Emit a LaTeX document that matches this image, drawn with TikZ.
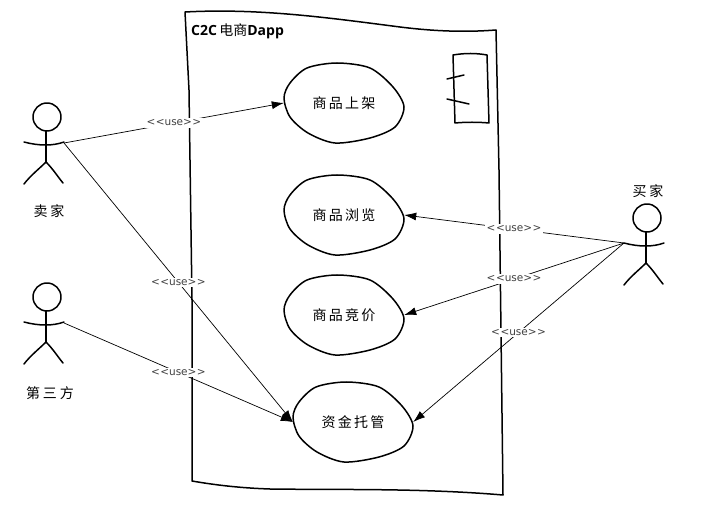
\documentclass[tikz,border=0pt]{standalone}
\usepackage{fontspec}
\setmainfont{Open Sans}
\newfontfamily\cjk{Noto Sans CJK SC}
\newfontfamily\cjkcase[LetterSpace=16]{Noto Sans CJK SC}
\newfontfamily\cjkactor[LetterSpace=20]{Noto Sans CJK SC}
\newfontfamily\labelfont{DejaVu Sans}
\usepackage{tikz}
\usetikzlibrary{arrows.meta,shapes.geometric}
\tikzset{
	sketch/.style={line width=1.5pt, line join=round, line cap=round},
	usecasetext/.style={ellipse, minimum width=120pt, minimum height=80pt, inner sep=0pt, font=\cjkcase\fontsize{14}{14}\selectfont},
	actortext/.style={inner sep=0pt, font=\cjkactor\fontsize{14}{14}\selectfont},
	uselabel/.style={fill=white, inner sep=1.5pt, text=black!75, font=\labelfont\fontsize{10.5}{10.5}\selectfont},
	usearrow/.style={line width=0.7pt, -{Latex[length=12pt,width=8pt]}}
}
\def\uselabeltext{<\kern0.5pt<use>\kern0.5pt>}
\def\usecase(#1)(#2,#3)#4{
	\draw[sketch] plot[smooth cycle] coordinates {(#2-60,#3-5) (#2-54,#3-20) (#2-37,#3-35) (#2-7,#3-40) (#2+26,#3-35) (#2+49,#3-16) (#2+60,#3+4) (#2+51,#3+24) (#2+26,#3+35) (#2-9,#3+40) (#2-36,#3+30) (#2-54,#3+14)};
	\node[usecasetext] (#1) at (#2,#3) {#4};
}
\def\actor(#1)(#2,#3){
	\draw[sketch] (#2,#3) circle (14);
	\draw[sketch] (#2-1,#3+14) -- (#2-1,#3+45);
	\draw[sketch] (#2-23,#3+25) .. controls (#2-8,#3+29) and (#2+6,#3+29) .. (#2+17,#3+25);
	\draw[sketch] (#2-23,#3+67) .. controls (#2-16,#3+58) and (#2-8,#3+52) .. (#2-1,#3+45) .. controls (#2+6,#3+52) and (#2+11,#3+60) .. (#2+16,#3+66);
}
\begin{document}
\begin{tikzpicture}[x=1pt,y=-1pt]
	\useasboundingbox (0,0) rectangle (704,510);

	% frame
	\draw[sketch] (185,12) .. controls (260,8) and (330,18) .. (400,27) .. controls (440,32) and (470,32) .. (496,30) -- (499,170) -- (503,495) .. controls (420,488) and (340,490) .. (270,489) .. controls (240,488) and (215,485) .. (192,481) -- (192,300) -- (189,90) -- cycle;
	\node[anchor=west, inner sep=0pt, font=\bfseries\fontsize{14}{14}\selectfont] (title) at (191,31) {C2C\,{\cjk\mdseries 电商}Dapp};

	% component icon
	\draw[sketch] (453,55) .. controls (465,53) and (476,53) .. (487,55) -- (489,123) .. controls (478,122) and (466,122) .. (455,123) -- cycle;
	\draw[sketch] (447,79) -- (464,75);
	\draw[sketch] (447,99) -- (469,104);

	% use cases
	\usecase(listing)(344,103){商品上架}
	\usecase(browse)(344,215){商品浏览}
	\usecase(bid)(344,315){商品竞价}
	\usecase(escrow)(353,422){资金托管}

	% actors
	\actor(seller)(47,117)
	\coordinate (sellerhand) at (64,143);
	\node[actortext] (sellername) at (49,211) {卖家};

	\actor(third)(47,297)
	\coordinate (thirdhand) at (64,323);
	\node[actortext] (thirdname) at (50,393) {第三方};

	\actor(buyer)(647,218)
	\coordinate (buyerhand) at (624,243);
	\node[actortext] (buyername) at (648,191) {买家};

	% connectors
	\draw[usearrow] (sellerhand) -- node[uselabel] {\uselabeltext} (listing.west);
	\draw[usearrow] (sellerhand) -- node[uselabel] {\uselabeltext} (escrow.west);
	\draw[usearrow] (thirdhand) -- node[uselabel] {\uselabeltext} (escrow.west);
	\draw[usearrow] (buyerhand) -- node[uselabel] {\uselabeltext} (browse.east);
	\draw[usearrow] (buyerhand) -- node[uselabel] {\uselabeltext} (bid.east);
	\draw[usearrow] (buyerhand) -- node[uselabel] {\uselabeltext} (escrow.east);
\end{tikzpicture}
\end{document}
